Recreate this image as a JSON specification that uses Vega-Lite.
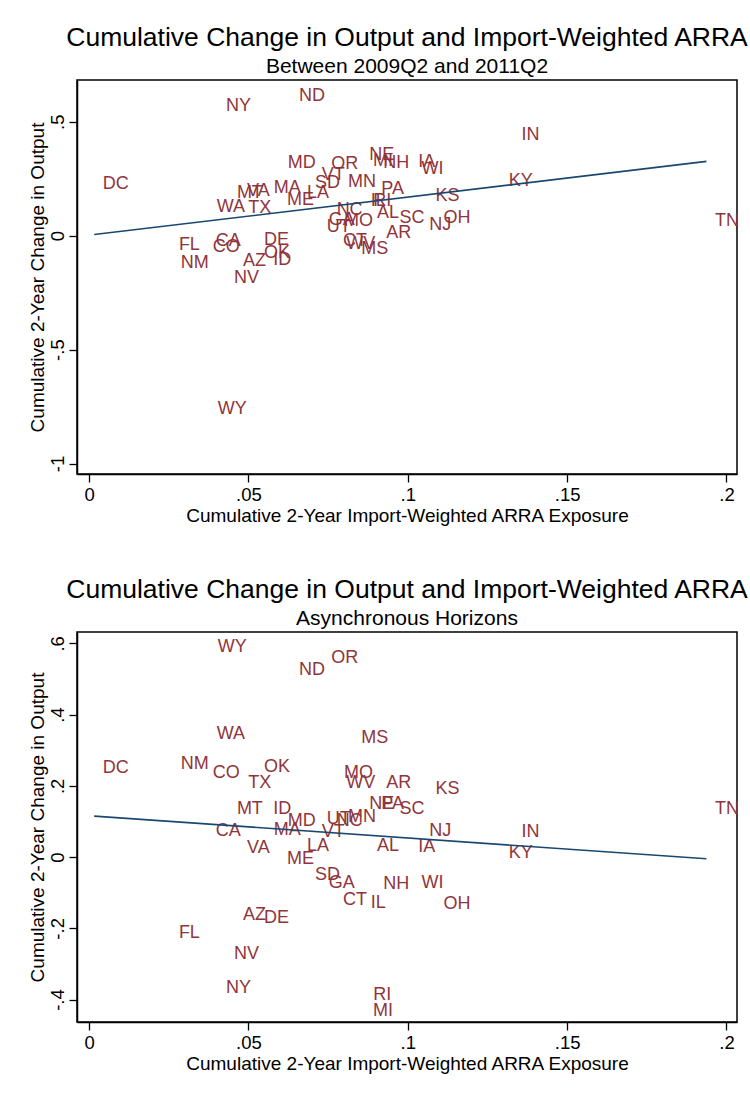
{
  "$schema": "https://vega.github.io/schema/vega-lite/v6.json",
  "background": "white",
  "padding": {"left": 27, "top": 23, "right": 0, "bottom": 5},
  "spacing": 48,
  "config": {
    "font": "Liberation Sans",
    "view": {"stroke": "black", "strokeWidth": 1.5},
    "axis": {
      "grid": false,
      "domainColor": "black",
      "domainWidth": 1.5,
      "tickColor": "black",
      "tickWidth": 1.3,
      "tickSize": 8,
      "labelColor": "black",
      "labelFontSize": 18.5,
      "titleColor": "black",
      "titleFontSize": 19,
      "titleFontWeight": "normal",
      "labelExpr": "datum.value == 0 ? '0' : (datum.value < 0 ? '-' : '') + replace(toString(abs(datum.value)), '0.', '.')"
    },
    "axisX": {"labelPadding": 3, "titlePadding": 3},
    "axisY": {"labelAngle": 270, "labelAlign": "center", "labelBaseline": "alphabetic", "labelPadding": 6, "titlePadding": 1},
    "title": {"fontSize": 26.5, "subtitleFontSize": 21, "fontWeight": "normal", "color": "black", "subtitleColor": "black", "anchor": "middle", "frame": "group", "offset": 3, "subtitlePadding": 5}
  },
  "datasets": {
    "states": [
      {"state": "AL", "x": 0.0877, "y1": 0.100, "y2": 0.031},
      {"state": "AZ", "x": 0.0456, "y1": -0.111, "y2": -0.163},
      {"state": "AR", "x": 0.0906, "y1": 0.012, "y2": 0.208},
      {"state": "CA", "x": 0.0371, "y1": -0.023, "y2": 0.073},
      {"state": "CO", "x": 0.0361, "y1": -0.050, "y2": 0.235},
      {"state": "CT", "x": 0.0770, "y1": -0.023, "y2": -0.121},
      {"state": "DE", "x": 0.0522, "y1": -0.019, "y2": -0.172},
      {"state": "DC", "x": 0.0016, "y1": 0.227, "y2": 0.250},
      {"state": "FL", "x": 0.0255, "y1": -0.041, "y2": -0.213},
      {"state": "GA", "x": 0.0725, "y1": 0.069, "y2": -0.073},
      {"state": "ID", "x": 0.0551, "y1": -0.107, "y2": 0.135},
      {"state": "IL", "x": 0.0857, "y1": 0.152, "y2": -0.128},
      {"state": "IN", "x": 0.1330, "y1": 0.442, "y2": 0.071},
      {"state": "IA", "x": 0.1006, "y1": 0.323, "y2": 0.028},
      {"state": "KS", "x": 0.1060, "y1": 0.174, "y2": 0.192},
      {"state": "KY", "x": 0.1290, "y1": 0.240, "y2": 0.012},
      {"state": "LA", "x": 0.0657, "y1": 0.187, "y2": 0.031},
      {"state": "ME", "x": 0.0594, "y1": 0.157, "y2": -0.004},
      {"state": "MD", "x": 0.0597, "y1": 0.317, "y2": 0.100},
      {"state": "MA", "x": 0.0553, "y1": 0.209, "y2": 0.075},
      {"state": "MI", "x": 0.0864, "y1": 0.328, "y2": -0.432},
      {"state": "MN", "x": 0.0786, "y1": 0.236, "y2": 0.112},
      {"state": "MS", "x": 0.0827, "y1": -0.058, "y2": 0.335},
      {"state": "MO", "x": 0.0773, "y1": 0.064, "y2": 0.235},
      {"state": "MT", "x": 0.0437, "y1": 0.187, "y2": 0.135},
      {"state": "NE", "x": 0.0852, "y1": 0.354, "y2": 0.148},
      {"state": "NV", "x": 0.0428, "y1": -0.186, "y2": -0.271},
      {"state": "NH", "x": 0.0896, "y1": 0.319, "y2": -0.076},
      {"state": "NJ", "x": 0.1041, "y1": 0.047, "y2": 0.073},
      {"state": "NM", "x": 0.0261, "y1": -0.120, "y2": 0.260},
      {"state": "NY", "x": 0.0403, "y1": 0.569, "y2": -0.367},
      {"state": "NC", "x": 0.0750, "y1": 0.113, "y2": 0.101},
      {"state": "ND", "x": 0.0632, "y1": 0.613, "y2": 0.524},
      {"state": "OH", "x": 0.1085, "y1": 0.078, "y2": -0.133},
      {"state": "OK", "x": 0.0522, "y1": -0.076, "y2": 0.253},
      {"state": "OR", "x": 0.0733, "y1": 0.314, "y2": 0.559},
      {"state": "PA", "x": 0.0890, "y1": 0.205, "y2": 0.148},
      {"state": "RI", "x": 0.0865, "y1": 0.152, "y2": -0.387},
      {"state": "SC", "x": 0.0947, "y1": 0.078, "y2": 0.134},
      {"state": "SD", "x": 0.0682, "y1": 0.231, "y2": -0.050},
      {"state": "TN", "x": 0.1937, "y1": 0.064, "y2": 0.135},
      {"state": "TX", "x": 0.0473, "y1": 0.121, "y2": 0.208},
      {"state": "UT", "x": 0.0719, "y1": 0.040, "y2": 0.106},
      {"state": "VT", "x": 0.0703, "y1": 0.266, "y2": 0.071},
      {"state": "VA", "x": 0.0469, "y1": 0.198, "y2": 0.026},
      {"state": "WA", "x": 0.0374, "y1": 0.126, "y2": 0.346},
      {"state": "WV", "x": 0.0780, "y1": -0.036, "y2": 0.208},
      {"state": "WI", "x": 0.1016, "y1": 0.293, "y2": -0.072},
      {"state": "WY", "x": 0.0377, "y1": -0.760, "y2": 0.589}
    ]
  },
  "vconcat": [
    {
      "width": 660,
      "height": 394,
      "title": {"text": "Cumulative Change in Output and Import-Weighted ARRA", "subtitle": "Between 2009Q2 and 2011Q2"},
      "data": {"name": "states"},
      "layer": [
        {
          "mark": {"type": "text", "align": "left", "baseline": "middle", "dx": 8.5, "fontSize": 18, "color": "#90353b"},
          "encoding": {
            "x": {"field": "x", "type": "quantitative", "scale": {"domain": [-0.0038, 0.2033], "nice": false, "zero": false},
                  "axis": {"values": [0, 0.05, 0.1, 0.15, 0.2], "title": "Cumulative 2-Year Import-Weighted ARRA Exposure"}},
            "y": {"field": "y1", "type": "quantitative", "scale": {"domain": [-1.046, 0.683], "nice": false, "zero": false},
                  "axis": {"values": [-1, -0.5, 0, 0.5], "title": "Cumulative 2-Year Change in Output"}},
            "text": {"field": "state"}
          }
        },
        {
          "transform": [{"regression": "y1", "on": "x"}],
          "mark": {"type": "line", "color": "#1a476f", "strokeWidth": 1.6},
          "encoding": {
            "x": {"field": "x", "type": "quantitative"},
            "y": {"field": "y1", "type": "quantitative"}
          }
        }
      ]
    },
    {
      "width": 660,
      "height": 390,
      "title": {"text": "Cumulative Change in Output and Import-Weighted ARRA", "subtitle": "Asynchronous Horizons"},
      "data": {"name": "states"},
      "layer": [
        {
          "mark": {"type": "text", "align": "left", "baseline": "middle", "dx": 8.5, "fontSize": 18, "color": "#90353b"},
          "encoding": {
            "x": {"field": "x", "type": "quantitative", "scale": {"domain": [-0.0038, 0.2033], "nice": false, "zero": false},
                  "axis": {"values": [0, 0.05, 0.1, 0.15, 0.2], "title": "Cumulative 2-Year Import-Weighted ARRA Exposure"}},
            "y": {"field": "y2", "type": "quantitative", "scale": {"domain": [-0.463, 0.632], "nice": false, "zero": false},
                  "axis": {"values": [-0.4, -0.2, 0, 0.2, 0.4, 0.6], "title": "Cumulative 2-Year Change in Output"}},
            "text": {"field": "state"}
          }
        },
        {
          "transform": [{"regression": "y2", "on": "x"}],
          "mark": {"type": "line", "color": "#1a476f", "strokeWidth": 1.6},
          "encoding": {
            "x": {"field": "x", "type": "quantitative"},
            "y": {"field": "y2", "type": "quantitative"}
          }
        }
      ]
    }
  ]
}
